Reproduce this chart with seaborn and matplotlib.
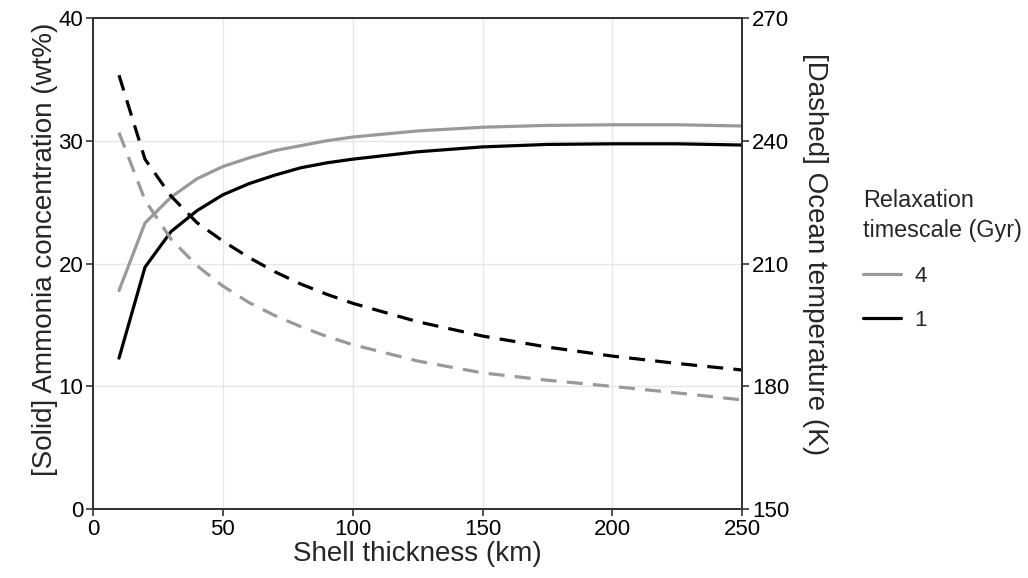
import pandas as pd
import seaborn as sns
import matplotlib.pyplot as plt
from matplotlib.lines import Line2D

# shell thickness (km)
thickness = [10, 20, 30, 40, 50, 60, 70, 80, 90, 100, 125, 150, 175, 200, 225, 250]

# ammonia concentration (wt%), solid lines
ammonia_4gyr = [17.8, 23.3, 25.4, 26.9, 27.9, 28.6, 29.2, 29.6, 30.0, 30.3, 30.8, 31.1, 31.25, 31.3, 31.3, 31.2]
ammonia_1gyr = [12.3, 19.7, 22.6, 24.3, 25.6, 26.5, 27.2, 27.8, 28.2, 28.5, 29.1, 29.5, 29.7, 29.75, 29.75, 29.65]

# ocean temperature (K), dashed lines
temp_4gyr = [242.0, 225.5, 216.0, 209.5, 204.5, 200.5, 197.3, 194.6, 192.2, 190.2, 186.2, 183.3, 181.5, 180.0, 178.4, 176.7]
temp_1gyr = [256.0, 235.5, 226.5, 220.0, 215.5, 211.5, 208.0, 205.0, 202.5, 200.3, 195.8, 192.3, 189.6, 187.4, 185.6, 184.0]

timescales = ["4", "1"]
colors = {"4": "#999999", "1": "#000000"}

df_nh3 = pd.DataFrame({
    "thickness": thickness * 2,
    "value": ammonia_4gyr + ammonia_1gyr,
    "timescale": ["4"] * len(thickness) + ["1"] * len(thickness),
})
df_temp = pd.DataFrame({
    "thickness": thickness * 2,
    "value": temp_4gyr + temp_1gyr,
    "timescale": ["4"] * len(thickness) + ["1"] * len(thickness),
})

sns.set_style("white")
plt.rcParams['font.family'] = ['Liberation Sans', 'DejaVu Sans']

fig = plt.figure(figsize=(10.28, 5.78), dpi=100)
ax = fig.add_axes([0.0905, 0.119, 0.6315, 0.85])
ax2 = ax.twinx()

lw = 2.3
sns.lineplot(data=df_nh3, x="thickness", y="value", hue="timescale",
             hue_order=timescales, palette=colors, linewidth=lw,
             legend=False, ax=ax)
sns.lineplot(data=df_temp, x="thickness", y="value", hue="timescale",
             hue_order=timescales, palette=colors, linewidth=lw,
             linestyle=(0, (5, 3.2)), legend=False, ax=ax2)

ax.set_xlim(0, 250)
ax.set_ylim(0, 40)
ax2.set_ylim(150, 270)
ax.set_xticks([0, 50, 100, 150, 200, 250])
ax.set_yticks([0, 10, 20, 30, 40])
ax2.set_yticks([150, 180, 210, 240, 270])

ax.grid(True, color="#e6e6e6", linewidth=1)
ax2.grid(False)

for a in (ax, ax2):
    for sp in a.spines.values():
        sp.set_color("#333333")
        sp.set_linewidth(1.3)
    a.tick_params(axis="both", which="major", direction="out", length=5,
                  width=1.2, color="#333333", labelsize=16, labelcolor="black",
                  pad=2)

ax.tick_params(left=True, bottom=True)
ax2.tick_params(right=True)

ax.set_xlabel("Shell thickness (km)", fontsize=20, labelpad=1)
ax.set_ylabel("[Solid] Ammonia concentration (wt%)", fontsize=20)
ax.yaxis.set_label_coords(-0.054, 0.53)
ax2.set_ylabel("[Dashed] Ocean temperature (K)", fontsize=20,
               rotation=270, va="bottom")
ax2.yaxis.set_label_coords(1.092, 0.52)

handles = [Line2D([0], [0], color=colors[t], linewidth=lw) for t in timescales]
leg = fig.legend(handles, timescales, title="Relaxation\ntimescale (Gyr)",
                 loc="center left", bbox_to_anchor=(0.82, 0.55),
                 frameon=False, fontsize=16, title_fontsize=16.8,
                 handlelength=1.7, handletextpad=0.6, labelspacing=1.05)
leg.get_title().set_linespacing(1.4)
leg._legend_box.align = "left"

fig.savefig("out.png", dpi=100, facecolor="white")
